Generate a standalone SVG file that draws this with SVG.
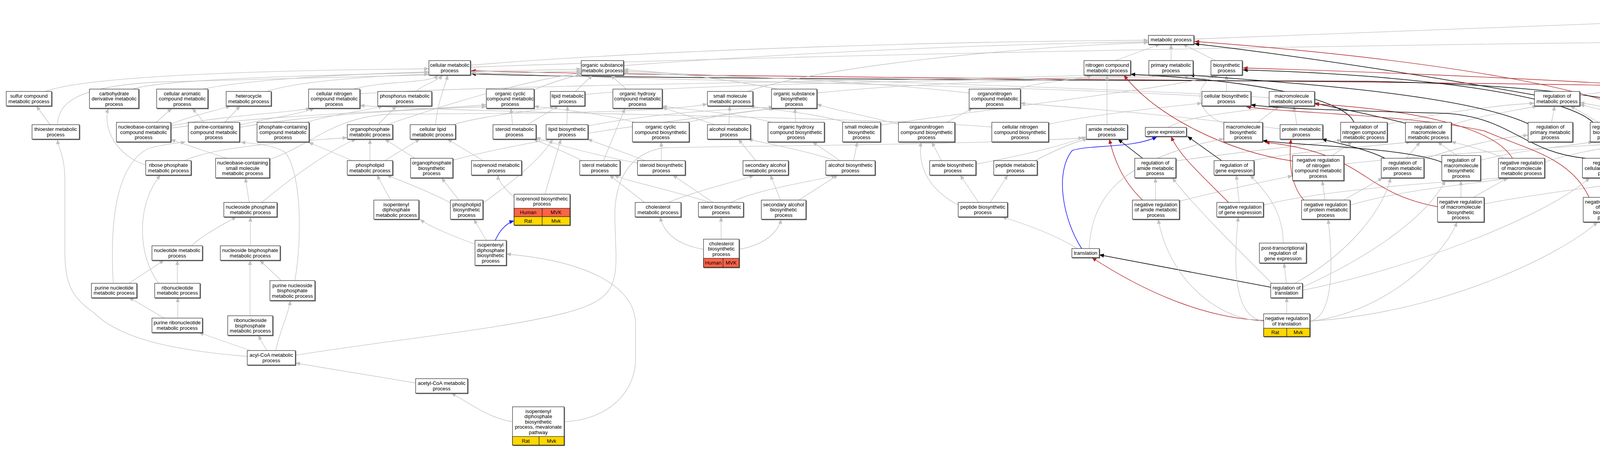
<svg xmlns="http://www.w3.org/2000/svg" width="5537" height="1149" viewBox="0 0 5537 1149">
<defs>
<style>
.n rect{fill:#fff;stroke:#111;stroke-width:1.1;filter:url(#sh)}
.n rect.hu{fill:#ff6347;filter:none}
.n rect.ra{fill:#ffd700;filter:none}
.n line{stroke:#111;stroke-width:1.2}
text{font-family:"Liberation Sans",Arial,Helvetica,sans-serif;font-size:13px;text-anchor:middle;fill:#000}
#connectors path{fill:none}
.g{stroke:#c0c0c0;stroke-width:1.3;marker-end:url(#ag)}
.k{stroke:#000;stroke-width:1.5;marker-end:url(#ak)}
.r{stroke:#b22222;stroke-width:1.4;marker-end:url(#ar)}
.b{stroke:#0000ff;stroke-width:1.4;marker-end:url(#ab)}
</style>
<filter id="sh" x="-10%" y="-10%" width="125%" height="140%"><feDropShadow dx="1.6" dy="1.6" stdDeviation="0" flood-color="#555" flood-opacity="1"/></filter>
<marker id="ag" markerUnits="userSpaceOnUse" markerWidth="12" markerHeight="10" refX="12" refY="5" orient="auto"><path d="M0,0 L12,5 L0,10 z" fill="#c0c0c0"/></marker>
<marker id="ak" markerUnits="userSpaceOnUse" markerWidth="12" markerHeight="10" refX="12" refY="5" orient="auto"><path d="M0,0 L12,5 L0,10 z" fill="#000"/></marker>
<marker id="ar" markerUnits="userSpaceOnUse" markerWidth="12" markerHeight="10" refX="12" refY="5" orient="auto"><path d="M0,0 L12,5 L0,10 z" fill="#b22222"/></marker>
<marker id="ab" markerUnits="userSpaceOnUse" markerWidth="12" markerHeight="10" refX="12" refY="5" orient="auto"><path d="M0,0 L12,5 L0,10 z" fill="#0000ff"/></marker>
</defs>
<rect x="0" y="0" width="5537" height="1149" fill="#fff"/>
<g id="connectors">
<path class="g" d="M3056,100 C3800,75 4400,50 4737,36"/>
<path class="g" d="M4672,90 C4700,75 4740,60 4757,48"/>
<path class="g" d="M4840,90 L4812,48"/>
<path class="k" d="M4803,155 C4780,120 4775,80 4790,48"/>
<path class="g" d="M4853,155 L4853,113"/>
<path class="g" d="M5035,155 C5010,80 4950,45 4857,38"/>
<path class="r" d="M4893,228 C4945,160 4945,60 4857,40"/>
<path class="g" d="M1204,167 C1700,125 2500,105 2940,103"/>
<path class="g" d="M1204,172 C2200,135 3700,112 4592,104"/>
<path class="g" d="M1596,168 C2100,130 2600,112 2940,107"/>
<path class="g" d="M2855,155 L2970,113"/>
<path class="g" d="M2998,155 L2998,113"/>
<path class="g" d="M3112,155 L3028,113"/>
<path class="k" d="M3928,243 C3600,185 3300,140 3058,112"/>
<path class="r" d="M4214,313 C4150,230 3650,150 3058,106"/>
<path class="k" d="M4078,313 C4000,240 3600,190 3182,179"/>
<path class="r" d="M4330,405 C4430,360 4420,235 4140,215 C3800,195 3400,180 3182,174"/>
<path class="r" d="M4475,405 C4530,300 4440,230 4100,218 C3400,205 1900,200 1206,181"/>
<path class="k" d="M4362,318 C4220,250 3900,215 3500,208 C2600,205 1500,200 1206,189"/>
<path class="g" d="M4044,243 C4300,215 4600,185 4796,178"/>
<path class="k" d="M4649,234 L4645,113"/>
<path class="g" d="M4685,234 C4730,212 4790,200 4815,192"/>
<path class="g" d="M4855,228 L4855,192"/>
<path class="k" d="M5052,228 L5052,192"/>
<path class="g" d="M5020,228 C4990,210 4930,200 4895,192"/>
<path class="g" d="M5165,234 L5080,192"/>
<path class="g" d="M5310,234 C5260,200 5160,185 5093,182"/>
<path class="r" d="M4715,313 C4745,240 4700,170 4660,113"/>
<path class="g" d="M116,234 C220,195 650,180 1098,176"/>
<path class="g" d="M340,228 C430,198 900,190 1488,177"/>
<path class="g" d="M520,228 C650,200 950,188 1098,184"/>
<path class="g" d="M683,234 C770,205 1000,192 1098,190"/>
<path class="g" d="M905,228 C990,205 1100,215 1122,192"/>
<path class="g" d="M921,240 C1300,215 2500,205 2800,192"/>
<path class="g" d="M1065,234 C1085,215 1120,208 1133,192"/>
<path class="g" d="M1367,230 C1400,215 1450,200 1488,190"/>
<path class="g" d="M1473,234 L1517,192"/>
<path class="g" d="M1497,242 C1800,210 2700,205 2962,192"/>
<path class="g" d="M1603,228 L1563,192"/>
<path class="g" d="M1913,234 C2100,170 2600,120 2940,109"/>
<path class="g" d="M1990,228 C1850,200 1700,185 1596,178"/>
<path class="g" d="M2091,238 C2400,205 2900,200 3112,192"/>
<path class="g" d="M2481,238 C2200,205 1800,192 1596,182"/>
<path class="g" d="M2600,228 C2680,205 2770,205 2795,192"/>
<path class="g" d="M3140,234 L3140,192"/>
<path class="g" d="M3077,246 C2600,218 1600,205 1206,185"/>
<path class="g" d="M3268,234 C3240,212 3060,208 3030,192"/>
<path class="g" d="M3249,250 C2800,222 1900,200 1596,186"/>
<path class="g" d="M4473,320 C4530,290 4580,275 4605,271"/>
<path class="g" d="M128,319 L93,271"/>
<path class="g" d="M147,319 C150,260 200,222 400,210 C800,198 1300,190 1488,182"/>
<path class="g" d="M400,313 L440,277"/>
<path class="g" d="M437,318 C500,292 560,282 590,271"/>
<path class="g" d="M437,322 C600,292 750,288 795,277"/>
<path class="g" d="M437,328 C700,292 1100,282 1245,268"/>
<path class="g" d="M522,313 L492,277"/>
<path class="g" d="M575,313 L615,271"/>
<path class="g" d="M613,320 C700,300 770,292 805,277"/>
<path class="g" d="M613,326 C800,292 1100,278 1245,273"/>
<path class="g" d="M785,313 C850,292 950,282 980,271"/>
<path class="g" d="M968,319 L1015,271"/>
<path class="g" d="M990,319 C1100,282 1300,215 1488,186"/>
<path class="g" d="M1160,319 C1250,292 1380,285 1420,271"/>
<path class="g" d="M1115,319 C1120,260 1140,222 1146,192"/>
<path class="g" d="M1312,319 L1308,277"/>
<path class="g" d="M1350,319 L1430,271"/>
<path class="g" d="M1451,319 L1453,271"/>
<path class="g" d="M1505,322 C1700,285 1900,278 1980,274"/>
<path class="g" d="M1625,313 C1550,292 1420,278 1367,272"/>
<path class="g" d="M1760,313 C1850,292 1950,282 1985,277"/>
<path class="g" d="M1830,319 L1695,275"/>
<path class="g" d="M1866,319 L1868,271"/>
<path class="g" d="M1975,313 C1900,292 1760,280 1695,272"/>
<path class="g" d="M2037,313 L2035,277"/>
<path class="g" d="M2165,313 C2080,288 1960,280 1920,271"/>
<path class="g" d="M2254,320 C2600,270 3000,225 3120,192"/>
<path class="g" d="M2424,313 L2490,277"/>
<path class="g" d="M2300,318 C2200,292 2120,278 2091,266"/>
<path class="g" d="M2539,325 C2200,298 1300,292 921,270"/>
<path class="g" d="M2684,318 C2800,292 3000,272 3077,264"/>
<path class="g" d="M2834,319 L2834,192"/>
<path class="g" d="M2990,326 C3050,292 3200,285 3270,271"/>
<path class="g" d="M3220,313 L3275,271"/>
<path class="g" d="M3138,318 C3050,285 3060,215 3112,192"/>
<path class="g" d="M3320,319 L3312,271"/>
<path class="g" d="M3277,330 C3000,292 2700,272 2612,264"/>
<path class="k" d="M3466,313 C3440,250 3200,205 2894,190"/>
<path class="g" d="M3551,318 C3700,285 3850,268 3928,264"/>
<path class="k" d="M3600,316 C3500,290 3400,272 3365,264"/>
<path class="g" d="M3715,320 C3800,292 3900,280 3935,271"/>
<path class="k" d="M3915,318 C3750,240 3300,212 3045,192"/>
<path class="g" d="M3972,313 L3980,271"/>
<path class="g" d="M4092,313 L4020,271"/>
<path class="g" d="M4205,318 C4150,292 4080,275 4044,268"/>
<path class="g" d="M4317,330 C4500,292 4700,278 4796,270"/>
<path class="g" d="M4365,322 C4250,292 4100,275 4044,262"/>
<path class="g" d="M4690,313 L4670,271"/>
<path class="g" d="M4735,313 L4808,277"/>
<path class="g" d="M4985,313 L5020,277"/>
<path class="g" d="M4940,313 L4892,277"/>
<path class="r" d="M4964,313 C4960,245 4990,205 5022,192"/>
<path class="k" d="M5170,313 L5182,271"/>
<path class="g" d="M5140,313 L5088,277"/>
<path class="k" d="M5313,313 L5322,271"/>
<path class="g" d="M5274,322 C5240,300 5140,285 5093,272"/>
<path class="g" d="M5440,326 L5365,271"/>
<path class="g" d="M472,411 C560,370 800,360 889,352"/>
<path class="g" d="M373,422 C300,400 262,330 277,277"/>
<path class="g" d="M580,405 L437,357"/>
<path class="g" d="M690,408 C800,370 850,300 1000,292 C1400,290 1700,288 1811,266"/>
<path class="g" d="M985,411 L1075,356"/>
<path class="g" d="M947,411 L947,356"/>
<path class="g" d="M902,411 L790,364"/>
<path class="g" d="M1062,405 L985,356"/>
<path class="g" d="M1159,410 C1400,345 1800,300 1980,277"/>
<path class="g" d="M1237,411 L1145,356"/>
<path class="g" d="M1490,411 C1440,385 1380,362 1365,356"/>
<path class="g" d="M1545,411 L1600,277"/>
<path class="g" d="M1652,411 L1504,356"/>
<path class="g" d="M1693,411 L1693,363"/>
<path class="g" d="M1635,418 C1500,392 1420,368 1372,352"/>
<path class="g" d="M1935,411 L1890,356"/>
<path class="g" d="M2140,411 C2050,382 1950,365 1915,356"/>
<path class="g" d="M2150,411 L2080,363"/>
<path class="g" d="M2185,411 L2195,363"/>
<path class="g" d="M2498,420 C2650,392 2740,365 2781,350"/>
<path class="g" d="M2410,411 L2385,363"/>
<path class="g" d="M2650,411 C2700,385 2750,362 2785,356"/>
<path class="k" d="M2925,405 L2862,356"/>
<path class="g" d="M3010,412 C3200,385 3380,368 3435,358"/>
<path class="k" d="M3127,411 L3040,349"/>
<path class="g" d="M3205,411 C3350,382 3550,372 3612,363"/>
<path class="g" d="M3410,398 L3462,363"/>
<path class="g" d="M3440,420 C3700,390 4100,372 4215,363"/>
<path class="r" d="M3309,412 C3150,390 2960,300 2877,192"/>
<path class="k" d="M3545,405 C3500,382 3420,365 3384,356"/>
<path class="g" d="M3600,405 L3636,363"/>
<path class="g" d="M3640,408 C3750,372 3850,350 3912,346"/>
<path class="g" d="M3730,398 L3680,363"/>
<path class="g" d="M3790,410 C3900,382 4030,372 4078,363"/>
<path class="k" d="M3691,415 C3600,378 3320,372 3232,360"/>
<path class="g" d="M3850,405 C3800,382 3740,370 3715,362"/>
<path class="g" d="M3954,415 C4050,382 4180,370 4220,363"/>
<path class="r" d="M3872,405 C3820,320 3600,280 3365,266"/>
<path class="g" d="M4110,405 L4112,363"/>
<path class="g" d="M4176,410 C4280,382 4370,370 4395,363"/>
<path class="k" d="M4059,405 C3900,390 3870,300 3700,290 C3400,282 3250,276 3202,268"/>
<path class="g" d="M4270,405 L4262,363"/>
<path class="g" d="M4232,405 L4148,363"/>
<path class="g" d="M4440,405 L4425,363"/>
<path class="g" d="M4400,405 L4310,363"/>
<path class="g" d="M4505,410 L4643,360"/>
<path class="g" d="M5110,398 L5145,363"/>
<path class="g" d="M5030,398 L4995,363"/>
<path class="r" d="M5072,398 C5072,330 5100,300 5145,271"/>
<path class="k" d="M5360,411 L5440,349"/>
<path class="g" d="M5330,411 L5325,363"/>
<path class="g" d="M5475,411 L5465,349"/>
<path class="g" d="M638,518 L628,455"/>
<path class="g" d="M670,518 C750,452 850,380 912,356"/>
<path class="g" d="M1000,512 L965,448"/>
<path class="g" d="M1155,520 C1100,490 1020,460 990,448"/>
<path class="g" d="M1175,512 L1130,455"/>
<path class="g" d="M1236,520 C1320,460 1390,400 1415,356"/>
<path class="g" d="M1320,508 C1290,482 1275,462 1275,448"/>
<path class="g" d="M1395,497 L1436,356"/>
<path class="g" d="M1650,518 L1560,448"/>
<path class="g" d="M1710,518 C1800,482 1900,462 1930,448"/>
<path class="g" d="M1818,518 C1700,482 1600,462 1572,448"/>
<path class="g" d="M1825,518 L1722,448"/>
<path class="g" d="M1871,518 C1950,480 2100,462 2140,448"/>
<path class="g" d="M1998,512 L1972,448"/>
<path class="g" d="M2045,512 L2145,448"/>
<path class="g" d="M2535,518 L2580,448"/>
<path class="g" d="M2505,518 L2458,448"/>
<path class="g" d="M2453,525 C2370,480 2350,420 2358,363"/>
<path class="g" d="M2958,512 L2958,455"/>
<path class="r" d="M2925,512 C2870,460 2850,400 2840,356"/>
<path class="g" d="M3019,515 C3150,482 3250,462 3309,450"/>
<path class="g" d="M3172,518 L3165,448"/>
<path class="r" d="M3145,518 C3080,452 3020,400 2998,349"/>
<path class="g" d="M3234,525 C3400,482 3750,462 3850,455"/>
<path class="g" d="M3440,512 L3540,455"/>
<path class="r" d="M3338,512 C3300,470 3300,400 3305,356"/>
<path class="g" d="M3456,525 C3600,482 3800,468 3865,455"/>
<path class="g" d="M3392,512 L3385,462"/>
<path class="g" d="M3740,505 L3740,462"/>
<path class="g" d="M3772,505 L3860,455"/>
<path class="g" d="M3799,522 C3950,492 4150,472 4240,455"/>
<path class="r" d="M3680,529 C3480,492 3500,392 3238,364"/>
<path class="g" d="M4112,505 L4112,455"/>
<path class="g" d="M4160,505 L4240,455"/>
<path class="g" d="M4172,520 C4250,492 4350,472 4395,455"/>
<path class="r" d="M4068,505 C4020,400 3900,380 3800,335 C3600,292 3300,290 3190,273"/>
<path class="g" d="M5200,518 L5310,448"/>
<path class="r" d="M5170,518 C5180,420 5250,380 5440,349"/>
<path class="g" d="M5118,530 C5000,502 4960,420 4960,363"/>
<path class="k" d="M5370,512 L5465,448"/>
<path class="g" d="M5334,512 L5334,448"/>
<path class="g" d="M5302,512 C5260,460 5210,420 5190,363"/>
<path class="g" d="M1216,625 C1150,600 1100,580 1075,561"/>
<path class="g" d="M1245,615 L1213,561"/>
<path class="b" d="M1268,615 C1275,598 1292,572 1316,565"/>
<path class="g" d="M490,629 C520,600 580,570 605,555"/>
<path class="g" d="M641,629 L641,555"/>
<path class="g" d="M1801,638 C1740,628 1700,600 1690,555"/>
<path class="g" d="M1846,612 L1846,555"/>
<path class="g" d="M1892,638 C1950,628 1990,600 2000,561"/>
<path class="g" d="M2758,636 C2700,600 2620,572 2565,555"/>
<path class="b" d="M2769,636 C2720,560 2700,440 2745,385 C2790,370 2900,380 2962,350"/>
<path class="g" d="M2788,636 C2795,520 2850,410 3133,355"/>
<path class="g" d="M3285,622 C3285,540 3240,490 3200,448"/>
<path class="g" d="M5199,636 C5120,630 5090,600 5085,560 C5080,520 5070,490 5068,462"/>
<path class="g" d="M5199,636 C5170,630 5170,600 5174,555"/>
<path class="g" d="M5317,636 C5345,625 5341,600 5341,561"/>
<path class="r" d="M5317,636 C5380,620 5450,520 5472,448"/>
<path class="g" d="M330,725 L420,666"/>
<path class="g" d="M290,725 C280,560 300,420 380,380 C420,368 460,366 475,363"/>
<path class="g" d="M454,725 L454,666"/>
<path class="g" d="M406,725 C350,650 350,520 411,448"/>
<path class="g" d="M720,718 L665,666"/>
<path class="g" d="M755,718 C775,600 770,440 730,390 C700,370 640,366 616,364"/>
<path class="g" d="M3293,725 L3287,673"/>
<path class="k" d="M3253,735 L2814,652"/>
<path class="g" d="M3256,725 C3150,620 3050,520 3001,455"/>
<path class="g" d="M3315,725 C3450,650 3540,540 3560,455"/>
<path class="g" d="M3334,735 C3500,660 3650,560 3700,462"/>
<path class="g" d="M3334,743 C3600,690 3950,560 4070,455"/>
<path class="g" d="M420,814 L330,761"/>
<path class="g" d="M455,814 L455,761"/>
<path class="g" d="M640,808 L640,666"/>
<path class="g" d="M3294,803 L3294,761"/>
<path class="r" d="M3235,820 C3100,815 2950,760 2795,659"/>
<path class="g" d="M3235,822 C3100,815 2990,700 2965,561"/>
<path class="g" d="M3235,822 C3150,812 3160,650 3170,555"/>
<path class="g" d="M3353,822 C3420,810 3410,650 3400,561"/>
<path class="g" d="M3353,822 C3550,800 3700,650 3730,568"/>
<path class="g" d="M3353,822 C3700,800 4000,650 4090,568"/>
<path class="g" d="M641,897 L509,851"/>
<path class="g" d="M683,897 L661,858"/>
<path class="g" d="M706,897 C715,850 740,800 743,769"/>
<path class="g" d="M633,912 C420,895 300,860 240,800 C180,760 166,720 166,640 L166,460 C166,400 150,380 147,357"/>
<path class="g" d="M756,909 C1000,870 1300,840 1450,800 C1560,770 1578,740 1577,650 L1574,560 C1572,450 1620,390 1700,378 C2000,372 2500,370 2773,353"/>
<path class="g" d="M1064,980 L756,929"/>
<path class="g" d="M1312,1079 C1250,1070 1200,1030 1155,1006"/>
<path class="g" d="M1444,1079 C1560,1075 1627,1000 1627,920 L1627,830 C1627,740 1520,670 1296,650"/>
</g>
<g id="nodes">
<g id="n-bp" class="n"><rect x="4737" y="11" width="119" height="37"/><text x="4796.5" y="27.25">Biological Process<tspan x="4796.5" dy="13.5">Mvk</tspan></text></g>
<g id="n-mp" class="n"><rect x="2940" y="90.5" width="116" height="23"/><text x="2998" y="106">metabolic process</text></g>
<g id="n-cp" class="n"><rect x="4592" y="90.5" width="101" height="23"/><text x="4642.5" y="106">cellular process</text></g>
<g id="n-br" class="n"><rect x="4791" y="90.5" width="123" height="23"/><text x="4852.5" y="106">biological regulation</text></g>
<g id="n-cmp" class="n"><rect x="1098" y="155" width="106" height="37"/><text x="1151" y="171.25">cellular metabolic<tspan x="1151" dy="13.5">process</tspan></text></g>
<g id="n-osmp" class="n"><rect x="1488" y="155" width="108" height="37"/><text x="1542" y="171.25">organic substance<tspan x="1542" dy="13.5">metabolic process</tspan></text></g>
<g id="n-ncmp" class="n"><rect x="2775" y="155" width="119" height="37"/><text x="2834.5" y="171.25">nitrogen compound<tspan x="2834.5" dy="13.5">metabolic process</tspan></text></g>
<g id="n-pmp" class="n"><rect x="2941" y="155" width="113" height="37"/><text x="2997.5" y="171.25">primary metabolic<tspan x="2997.5" dy="13.5">process</tspan></text></g>
<g id="n-bsp" class="n"><rect x="3100" y="155" width="80" height="37"/><text x="3140" y="171.25">biosynthetic<tspan x="3140" dy="13.5">process</tspan></text></g>
<g id="n-rbp" class="n"><rect x="4796" y="155" width="114" height="37"/><text x="4853" y="171.25">regulation of<tspan x="4853" dy="13.5">biological process</tspan></text></g>
<g id="n-rts" class="n"><rect x="5013" y="155" width="79" height="37"/><text x="5052.5" y="171.25">response to<tspan x="5052.5" dy="13.5">stimulus</tspan></text></g>
<g id="n-scmp" class="n"><rect x="16" y="234" width="116" height="37"/><text x="74" y="250.25">sulfur compound<tspan x="74" dy="13.5">metabolic process</tspan></text></g>
<g id="n-cdmp" class="n"><rect x="229" y="228" width="126" height="49"/><text x="292" y="243.5">carbohydrate<tspan x="292" dy="13.5">derivative metabolic</tspan><tspan x="292" dy="13.5">process</tspan></text></g>
<g id="n-camp" class="n"><rect x="401" y="228" width="131" height="49"/><text x="466.5" y="243.5">cellular aromatic<tspan x="466.5" dy="13.5">compound metabolic</tspan><tspan x="466.5" dy="13.5">process</tspan></text></g>
<g id="n-hmp" class="n"><rect x="579" y="234" width="115" height="37"/><text x="636.5" y="250.25">heterocycle<tspan x="636.5" dy="13.5">metabolic process</tspan></text></g>
<g id="n-cncmp" class="n"><rect x="790" y="228" width="131" height="49"/><text x="855.5" y="243.5">cellular nitrogen<tspan x="855.5" dy="13.5">compound metabolic</tspan><tspan x="855.5" dy="13.5">process</tspan></text></g>
<g id="n-phmp" class="n"><rect x="967" y="234" width="138" height="37"/><text x="1036" y="250.25">phosphorus metabolic<tspan x="1036" dy="13.5">process</tspan></text></g>
<g id="n-occmp" class="n"><rect x="1245" y="228" width="122" height="49"/><text x="1306" y="243.5">organic cyclic<tspan x="1306" dy="13.5">compound metabolic</tspan><tspan x="1306" dy="13.5">process</tspan></text></g>
<g id="n-lmp" class="n"><rect x="1409" y="234" width="88" height="37"/><text x="1453" y="250.25">lipid metabolic<tspan x="1453" dy="13.5">process</tspan></text></g>
<g id="n-ohcmp" class="n"><rect x="1569" y="228" width="126" height="49"/><text x="1632" y="243.5">organic hydroxy<tspan x="1632" dy="13.5">compound metabolic</tspan><tspan x="1632" dy="13.5">process</tspan></text></g>
<g id="n-smmp" class="n"><rect x="1811" y="234" width="116" height="37"/><text x="1869" y="250.25">small molecule<tspan x="1869" dy="13.5">metabolic process</tspan></text></g>
<g id="n-osbp" class="n"><rect x="1975" y="228" width="116" height="49"/><text x="2033" y="243.5">organic substance<tspan x="2033" dy="13.5">biosynthetic</tspan><tspan x="2033" dy="13.5">process</tspan></text></g>
<g id="n-oncmp" class="n"><rect x="2481" y="228" width="131" height="49"/><text x="2546.5" y="243.5">organonitrogen<tspan x="2546.5" dy="13.5">compound metabolic</tspan><tspan x="2546.5" dy="13.5">process</tspan></text></g>
<g id="n-cbp" class="n"><rect x="3077" y="234" width="125" height="37"/><text x="3139.5" y="250.25">cellular biosynthetic<tspan x="3139.5" dy="13.5">process</tspan></text></g>
<g id="n-mmp" class="n"><rect x="3249" y="234" width="116" height="37"/><text x="3307" y="250.25">macromolecule<tspan x="3307" dy="13.5">metabolic process</tspan></text></g>
<g id="n-rmp" class="n"><rect x="3928" y="234" width="116" height="37"/><text x="3986" y="250.25">regulation of<tspan x="3986" dy="13.5">metabolic process</tspan></text></g>
<g id="n-rcp" class="n"><rect x="4597" y="234" width="102" height="37"/><text x="4648" y="250.25">regulation of<tspan x="4648" dy="13.5">cellular process</tspan></text></g>
<g id="n-nrbp" class="n"><rect x="4796" y="228" width="118" height="49"/><text x="4855" y="243.5">negative regulation<tspan x="4855" dy="13.5">of biological</tspan><tspan x="4855" dy="13.5">process</tspan></text></g>
<g id="n-rrs" class="n"><rect x="5012" y="228" width="81" height="49"/><text x="5052.5" y="243.5">regulation of<tspan x="5052.5" dy="13.5">response to</tspan><tspan x="5052.5" dy="13.5">stimulus</tspan></text></g>
<g id="n-res" class="n"><rect x="5139" y="234" width="109" height="37"/><text x="5193.5" y="250.25">response to<tspan x="5193.5" dy="13.5">external stimulus</tspan></text></g>
<g id="n-rst" class="n"><rect x="5295" y="234" width="78" height="37"/><text x="5334" y="250.25">response to<tspan x="5334" dy="13.5">stress</tspan></text></g>
<g id="n-tmp" class="n"><rect x="82" y="319" width="121" height="37"/><text x="142.5" y="335.25">thioester metabolic<tspan x="142.5" dy="13.5">process</tspan></text></g>
<g id="n-nbcmp" class="n"><rect x="298" y="313" width="139" height="50"/><text x="367.5" y="329">nucleobase-containing<tspan x="367.5" dy="13.5">compound metabolic</tspan><tspan x="367.5" dy="13.5">process</tspan></text></g>
<g id="n-pccmp" class="n"><rect x="482" y="313" width="131" height="50"/><text x="547.5" y="329">purine-containing<tspan x="547.5" dy="13.5">compound metabolic</tspan><tspan x="547.5" dy="13.5">process</tspan></text></g>
<g id="n-phcmp" class="n"><rect x="658" y="313" width="133" height="50"/><text x="724.5" y="329">phosphate-containing<tspan x="724.5" dy="13.5">compound metabolic</tspan><tspan x="724.5" dy="13.5">process</tspan></text></g>
<g id="n-opmp" class="n"><rect x="889" y="319" width="116" height="37"/><text x="947" y="335.25">organophosphate<tspan x="947" dy="13.5">metabolic process</tspan></text></g>
<g id="n-clmp" class="n"><rect x="1050" y="319" width="116" height="37"/><text x="1108" y="335.25">cellular lipid<tspan x="1108" dy="13.5">metabolic process</tspan></text></g>
<g id="n-stmp" class="n"><rect x="1262" y="319" width="110" height="37"/><text x="1317" y="335.25">steroid metabolic<tspan x="1317" dy="13.5">process</tspan></text></g>
<g id="n-lbp" class="n"><rect x="1398" y="319" width="107" height="37"/><text x="1451.5" y="335.25">lipid biosynthetic<tspan x="1451.5" dy="13.5">process</tspan></text></g>
<g id="n-occbp" class="n"><rect x="1619" y="313" width="145" height="50"/><text x="1691.5" y="329">organic cyclic<tspan x="1691.5" dy="13.5">compound biosynthetic</tspan><tspan x="1691.5" dy="13.5">process</tspan></text></g>
<g id="n-amp" class="n"><rect x="1811" y="319" width="110" height="37"/><text x="1866" y="335.25">alcohol metabolic<tspan x="1866" dy="13.5">process</tspan></text></g>
<g id="n-ohcbp" class="n"><rect x="1966" y="313" width="144" height="50"/><text x="2038" y="329">organic hydroxy<tspan x="2038" dy="13.5">compound biosynthetic</tspan><tspan x="2038" dy="13.5">process</tspan></text></g>
<g id="n-smbp" class="n"><rect x="2157" y="313" width="97" height="50"/><text x="2205.5" y="329">small molecule<tspan x="2205.5" dy="13.5">biosynthetic</tspan><tspan x="2205.5" dy="13.5">process</tspan></text></g>
<g id="n-oncbp" class="n"><rect x="2300" y="313" width="144" height="50"/><text x="2372" y="329">organonitrogen<tspan x="2372" dy="13.5">compound biosynthetic</tspan><tspan x="2372" dy="13.5">process</tspan></text></g>
<g id="n-cncbp" class="n"><rect x="2539" y="313" width="145" height="50"/><text x="2611.5" y="329">cellular nitrogen<tspan x="2611.5" dy="13.5">compound biosynthetic</tspan><tspan x="2611.5" dy="13.5">process</tspan></text></g>
<g id="n-ammp" class="n"><rect x="2781" y="319" width="105" height="37"/><text x="2833.5" y="335.25">amide metabolic<tspan x="2833.5" dy="13.5">process</tspan></text></g>
<g id="n-ge" class="n"><rect x="2932" y="326" width="105" height="23"/><text x="2984.5" y="342">gene expression</text></g>
<g id="n-mbp" class="n"><rect x="3133" y="313" width="99" height="50"/><text x="3182.5" y="329">macromolecule<tspan x="3182.5" dy="13.5">biosynthetic</tspan><tspan x="3182.5" dy="13.5">process</tspan></text></g>
<g id="n-prmp" class="n"><rect x="3277" y="319" width="109" height="37"/><text x="3331.5" y="335.25">protein metabolic<tspan x="3331.5" dy="13.5">process</tspan></text></g>
<g id="n-rncmp" class="n"><rect x="3432" y="313" width="119" height="50"/><text x="3491.5" y="329">regulation of<tspan x="3491.5" dy="13.5">nitrogen compound</tspan><tspan x="3491.5" dy="13.5">metabolic process</tspan></text></g>
<g id="n-rmmp" class="n"><rect x="3598" y="313" width="117" height="50"/><text x="3656.5" y="329">regulation of<tspan x="3656.5" dy="13.5">macromolecule</tspan><tspan x="3656.5" dy="13.5">metabolic process</tspan></text></g>
<g id="n-rpmp" class="n"><rect x="3912" y="313" width="114" height="50"/><text x="3969" y="329">regulation of<tspan x="3969" dy="13.5">primary metabolic</tspan><tspan x="3969" dy="13.5">process</tspan></text></g>
<g id="n-rbsp" class="n"><rect x="4071" y="313" width="82" height="50"/><text x="4112" y="329">regulation of<tspan x="4112" dy="13.5">biosynthetic</tspan><tspan x="4112" dy="13.5">process</tspan></text></g>
<g id="n-nrmp" class="n"><rect x="4198" y="313" width="119" height="50"/><text x="4257.5" y="329">negative regulation<tspan x="4257.5" dy="13.5">of metabolic</tspan><tspan x="4257.5" dy="13.5">process</tspan></text></g>
<g id="n-rcmp" class="n"><rect x="4362" y="313" width="111" height="50"/><text x="4417.5" y="329">regulation of<tspan x="4417.5" dy="13.5">cellular metabolic</tspan><tspan x="4417.5" dy="13.5">process</tspan></text></g>
<g id="n-nrcp" class="n"><rect x="4643" y="313" width="118" height="50"/><text x="4702" y="329">negative regulation<tspan x="4702" dy="13.5">of cellular</tspan><tspan x="4702" dy="13.5">process</tspan></text></g>
<g id="n-nrrs" class="n"><rect x="4902" y="313" width="119" height="50"/><text x="4961.5" y="329">negative regulation<tspan x="4961.5" dy="13.5">of response</tspan><tspan x="4961.5" dy="13.5">to stimulus</tspan></text></g>
<g id="n-rres" class="n"><rect x="5118" y="313" width="110" height="50"/><text x="5173" y="329">regulation of<tspan x="5173" dy="13.5">response to</tspan><tspan x="5173" dy="13.5">external stimulus</tspan></text></g>
<g id="n-rrst" class="n"><rect x="5274" y="313" width="82" height="50"/><text x="5315" y="329">regulation of<tspan x="5315" dy="13.5">response to</tspan><tspan x="5315" dy="13.5">stress</tspan></text></g>
<g id="n-dr" class="n"><rect x="5401" y="326" width="114" height="23"/><text x="5458" y="342">defense response</text></g>
<g id="n-rpm" class="n"><rect x="373" y="411" width="116" height="37"/><text x="431" y="427.25">ribose phosphate<tspan x="431" dy="13.5">metabolic process</tspan></text></g>
<g id="n-nbsm" class="n"><rect x="552" y="405" width="138" height="50"/><text x="621" y="421">nucleobase-containing<tspan x="621" dy="13.5">small molecule</tspan><tspan x="621" dy="13.5">metabolic process</tspan></text></g>
<g id="n-plmp" class="n"><rect x="889" y="411" width="116" height="37"/><text x="947" y="427.25">phospholipid<tspan x="947" dy="13.5">metabolic process</tspan></text></g>
<g id="n-opbp" class="n"><rect x="1051" y="405" width="108" height="50"/><text x="1105" y="421">organophosphate<tspan x="1105" dy="13.5">biosynthetic</tspan><tspan x="1105" dy="13.5">process</tspan></text></g>
<g id="n-ipmp" class="n"><rect x="1207" y="411" width="128" height="37"/><text x="1271" y="427.25">isoprenoid metabolic<tspan x="1271" dy="13.5">process</tspan></text></g>
<g id="n-slmp" class="n"><rect x="1484" y="411" width="103" height="37"/><text x="1535.5" y="427.25">sterol metabolic<tspan x="1535.5" dy="13.5">process</tspan></text></g>
<g id="n-stbp" class="n"><rect x="1632" y="411" width="122" height="37"/><text x="1693" y="427.25">steroid biosynthetic<tspan x="1693" dy="13.5">process</tspan></text></g>
<g id="n-samp" class="n"><rect x="1902" y="411" width="116" height="37"/><text x="1960" y="427.25">secondary alcohol<tspan x="1960" dy="13.5">metabolic process</tspan></text></g>
<g id="n-abp" class="n"><rect x="2114" y="411" width="126" height="37"/><text x="2177" y="427.25">alcohol biosynthetic<tspan x="2177" dy="13.5">process</tspan></text></g>
<g id="n-ambp" class="n"><rect x="2380" y="411" width="118" height="37"/><text x="2439" y="427.25">amide biosynthetic<tspan x="2439" dy="13.5">process</tspan></text></g>
<g id="n-pemp" class="n"><rect x="2544" y="411" width="111" height="37"/><text x="2599.5" y="427.25">peptide metabolic<tspan x="2599.5" dy="13.5">process</tspan></text></g>
<g id="n-ramp" class="n"><rect x="2905" y="405" width="105" height="50"/><text x="2957.5" y="421">regulation of<tspan x="2957.5" dy="13.5">amide metabolic</tspan><tspan x="2957.5" dy="13.5">process</tspan></text></g>
<g id="n-rge" class="n"><rect x="3108" y="411" width="102" height="37"/><text x="3159" y="427.25">regulation of<tspan x="3159" dy="13.5">gene expression</tspan></text></g>
<g id="n-nrncmp" class="n"><rect x="3309" y="398" width="131" height="64"/><text x="3374.5" y="414.25">negative regulation<tspan x="3374.5" dy="13.5">of nitrogen</tspan><tspan x="3374.5" dy="13.5">compound metabolic</tspan><tspan x="3374.5" dy="13.5">process</tspan></text></g>
<g id="n-rprmp" class="n"><rect x="3536" y="405" width="109" height="50"/><text x="3590.5" y="421">regulation of<tspan x="3590.5" dy="13.5">protein metabolic</tspan><tspan x="3590.5" dy="13.5">process</tspan></text></g>
<g id="n-rmbp" class="n"><rect x="3691" y="398" width="99" height="64"/><text x="3740.5" y="414.25">regulation of<tspan x="3740.5" dy="13.5">macromolecule</tspan><tspan x="3740.5" dy="13.5">biosynthetic</tspan><tspan x="3740.5" dy="13.5">process</tspan></text></g>
<g id="n-nrmmp" class="n"><rect x="3836" y="405" width="118" height="50"/><text x="3895" y="421">negative regulation<tspan x="3895" dy="13.5">of macromolecule</tspan><tspan x="3895" dy="13.5">metabolic process</tspan></text></g>
<g id="n-rcbp" class="n"><rect x="4051" y="405" width="125" height="50"/><text x="4113.5" y="421">regulation of<tspan x="4113.5" dy="13.5">cellular biosynthetic</tspan><tspan x="4113.5" dy="13.5">process</tspan></text></g>
<g id="n-nrbsp" class="n"><rect x="4222" y="405" width="119" height="50"/><text x="4281.5" y="421">negative regulation<tspan x="4281.5" dy="13.5">of biosynthetic</tspan><tspan x="4281.5" dy="13.5">process</tspan></text></g>
<g id="n-nrcmp" class="n"><rect x="4386" y="405" width="119" height="50"/><text x="4445.5" y="421">negative regulation<tspan x="4445.5" dy="13.5">of cellular</tspan><tspan x="4445.5" dy="13.5">metabolic process</tspan></text></g>
<g id="n-nrres" class="n"><rect x="5010" y="398" width="119" height="64"/><text x="5069.5" y="414.25">negative regulation<tspan x="5069.5" dy="13.5">of response</tspan><tspan x="5069.5" dy="13.5">to external</tspan><tspan x="5069.5" dy="13.5">stimulus</tspan></text></g>
<g id="n-rdr" class="n"><rect x="5277" y="411" width="114" height="37"/><text x="5334" y="427.25">regulation of<tspan x="5334" dy="13.5">defense response</tspan></text></g>
<g id="n-ir" class="n"><rect x="5436" y="411" width="86" height="37"/><text x="5479" y="427.25">inflammatory<tspan x="5479" dy="13.5">response</tspan></text></g>
<g id="n-npmp" class="n"><rect x="573" y="518" width="136" height="37"/><text x="641" y="534.25">nucleoside phosphate<tspan x="641" dy="13.5">metabolic process</tspan></text></g>
<g id="n-idmp" class="n"><rect x="957" y="512" width="115" height="49"/><text x="1014.5" y="527.5">isopentenyl<tspan x="1014.5" dy="13.5">diphosphate</tspan><tspan x="1014.5" dy="13.5">metabolic process</tspan></text></g>
<g id="n-plbp" class="n"><rect x="1153" y="512" width="83" height="49"/><text x="1194.5" y="527.5">phospholipid<tspan x="1194.5" dy="13.5">biosynthetic</tspan><tspan x="1194.5" dy="13.5">process</tspan></text></g>
<g id="n-ipbp" class="n"><rect x="1316" y="497" width="143" height="79"/><rect class="hu" x="1316" y="533" width="143" height="21.5"/><rect class="ra" x="1316" y="554.5" width="143" height="21.5"/><line x1="1388" y1="533" x2="1388" y2="576"/><text x="1387.5" y="512.75">isoprenoid biosynthetic<tspan x="1387.5" dy="13.5">process</tspan></text><text x="1352" y="548.25">Human</text><text x="1423.5" y="548.25">MVK</text><text x="1352" y="569.75">Rat</text><text x="1423.5" y="569.75">Mvk</text></g>
<g id="n-chmp" class="n"><rect x="1626" y="518" width="117" height="37"/><text x="1684.5" y="534.25">cholesterol<tspan x="1684.5" dy="13.5">metabolic process</tspan></text></g>
<g id="n-slbp" class="n"><rect x="1788" y="518" width="115" height="37"/><text x="1845.5" y="534.25">sterol biosynthetic<tspan x="1845.5" dy="13.5">process</tspan></text></g>
<g id="n-sabp" class="n"><rect x="1949" y="512" width="114" height="49"/><text x="2006" y="527.5">secondary alcohol<tspan x="2006" dy="13.5">biosynthetic</tspan><tspan x="2006" dy="13.5">process</tspan></text></g>
<g id="n-pebp" class="n"><rect x="2453" y="518" width="126" height="37"/><text x="2516" y="534.25">peptide biosynthetic<tspan x="2516" dy="13.5">process</tspan></text></g>
<g id="n-nramp" class="n"><rect x="2899" y="512" width="120" height="49"/><text x="2959" y="527.5">negative regulation<tspan x="2959" dy="13.5">of amide metabolic</tspan><tspan x="2959" dy="13.5">process</tspan></text></g>
<g id="n-nrge" class="n"><rect x="3115" y="518" width="119" height="37"/><text x="3174.5" y="534.25">negative regulation<tspan x="3174.5" dy="13.5">of gene expression</tspan></text></g>
<g id="n-nrprmp" class="n"><rect x="3332" y="512" width="124" height="49"/><text x="3394" y="527.5">negative regulation<tspan x="3394" dy="13.5">of protein metabolic</tspan><tspan x="3394" dy="13.5">process</tspan></text></g>
<g id="n-nrmbp" class="n"><rect x="3680" y="505" width="119" height="63"/><text x="3739.5" y="520.75">negative regulation<tspan x="3739.5" dy="13.5">of macromolecule</tspan><tspan x="3739.5" dy="13.5">biosynthetic</tspan><tspan x="3739.5" dy="13.5">process</tspan></text></g>
<g id="n-nrcbp" class="n"><rect x="4053" y="505" width="119" height="63"/><text x="4112.5" y="520.75">negative regulation<tspan x="4112.5" dy="13.5">of cellular</tspan><tspan x="4112.5" dy="13.5">biosynthetic</tspan><tspan x="4112.5" dy="13.5">process</tspan></text></g>
<g id="n-nrdr" class="n"><rect x="5118" y="518" width="129" height="37"/><text x="5182.5" y="534.25">negative regulation<tspan x="5182.5" dy="13.5">of defense response</tspan></text></g>
<g id="n-rir" class="n"><rect x="5292" y="512" width="86" height="49"/><text x="5335" y="527.5">regulation of<tspan x="5335" dy="13.5">inflammatory</tspan><tspan x="5335" dy="13.5">response</tspan></text></g>
<g id="n-idbp" class="n"><rect x="1216" y="615" width="80" height="64"/><text x="1256" y="631.25">isopentenyl<tspan x="1256" dy="13.5">diphosphate</tspan><tspan x="1256" dy="13.5">biosynthetic</tspan><tspan x="1256" dy="13.5">process</tspan></text></g>
<g id="n-nmp" class="n"><rect x="389" y="629" width="129" height="37"/><text x="453.5" y="645.25">nucleotide metabolic<tspan x="453.5" dy="13.5">process</tspan></text></g>
<g id="n-nbmp" class="n"><rect x="564" y="629" width="153" height="37"/><text x="640.5" y="645.25">nucleoside bisphosphate<tspan x="640.5" dy="13.5">metabolic process</tspan></text></g>
<g id="n-chbp" class="n"><rect x="1801" y="612" width="91" height="72"/><rect class="hu" x="1801" y="661" width="91" height="23"/><line x1="1851" y1="661" x2="1851" y2="684"/><text x="1846.5" y="627.5">cholesterol<tspan x="1846.5" dy="13.5">biosynthetic</tspan><tspan x="1846.5" dy="13.5">process</tspan></text><text x="1826" y="677">Human</text><text x="1871.5" y="677">MVK</text></g>
<g id="n-tr" class="n"><rect x="2744" y="636" width="70" height="23"/><text x="2779" y="652">translation</text></g>
<g id="n-ptrge" class="n"><rect x="3224" y="622" width="120" height="51"/><text x="3284" y="638.5">post-transcriptional<tspan x="3284" dy="13.5">regulation of</tspan><tspan x="3284" dy="13.5">gene expression</tspan></text></g>
<g id="n-nrir" class="n"><rect x="5199" y="612" width="118" height="72"/><rect class="hu" x="5199" y="661" width="118" height="23"/><line x1="5258" y1="661" x2="5258" y2="684"/><text x="5258" y="627.5">negative regulation<tspan x="5258" dy="13.5">of inflammatory</tspan><tspan x="5258" dy="13.5">response</tspan></text><text x="5228.5" y="677">Human</text><text x="5287.5" y="677">MVK</text></g>
<g id="n-pnmp" class="n"><rect x="234" y="725" width="116" height="37"/><text x="292" y="740.75">purine nucleotide<tspan x="292" dy="13.5">metabolic process</tspan></text></g>
<g id="n-rnmp" class="n"><rect x="396" y="725" width="116" height="37"/><text x="454" y="740.75">ribonucleotide<tspan x="454" dy="13.5">metabolic process</tspan></text></g>
<g id="n-pnbmp" class="n"><rect x="691" y="718" width="115" height="51"/><text x="748.5" y="734.5">purine nucleoside<tspan x="748.5" dy="13.5">bisphosphate</tspan><tspan x="748.5" dy="13.5">metabolic process</tspan></text></g>
<g id="n-rtr" class="n"><rect x="3253" y="725" width="81" height="37"/><text x="3293.5" y="740.75">regulation of<tspan x="3293.5" dy="13.5">translation</tspan></text></g>
<g id="n-prnmp" class="n"><rect x="389" y="814" width="129" height="37"/><text x="453.5" y="830.25">purine ribonucleotide<tspan x="453.5" dy="13.5">metabolic process</tspan></text></g>
<g id="n-rnbmp" class="n"><rect x="583" y="808" width="115" height="50"/><text x="640.5" y="824">ribonucleoside<tspan x="640.5" dy="13.5">bisphosphate</tspan><tspan x="640.5" dy="13.5">metabolic process</tspan></text></g>
<g id="n-nrtr" class="n"><rect x="3235" y="803" width="118" height="58"/><rect class="ra" x="3235" y="840" width="118" height="21"/><line x1="3294" y1="840" x2="3294" y2="861"/><text x="3294" y="819.25">negative regulation<tspan x="3294" dy="13.5">of translation</tspan></text><text x="3264.5" y="855">Rat</text><text x="3323.5" y="855">Mvk</text></g>
<g id="n-acmp" class="n"><rect x="633" y="897" width="123" height="37"/><text x="694.5" y="913.25">acyl-CoA metabolic<tspan x="694.5" dy="13.5">process</tspan></text></g>
<g id="n-actmp" class="n"><rect x="1064" y="969" width="133" height="37"/><text x="1130.5" y="985.25">acetyl-CoA metabolic<tspan x="1130.5" dy="13.5">process</tspan></text></g>
<g id="n-mev" class="n"><rect x="1312" y="1041" width="132" height="98"/><rect class="ra" x="1312" y="1117" width="132" height="22"/><line x1="1380" y1="1117" x2="1380" y2="1139"/><text x="1378" y="1056.5">isopentenyl<tspan x="1378" dy="13.5">diphosphate</tspan><tspan x="1378" dy="13.5">biosynthetic</tspan><tspan x="1378" dy="13.5">process, mevalonate</tspan><tspan x="1378" dy="13.5">pathway</tspan></text><text x="1346" y="1132.5">Rat</text><text x="1412" y="1132.5">Mvk</text></g>
</g>
</svg>
